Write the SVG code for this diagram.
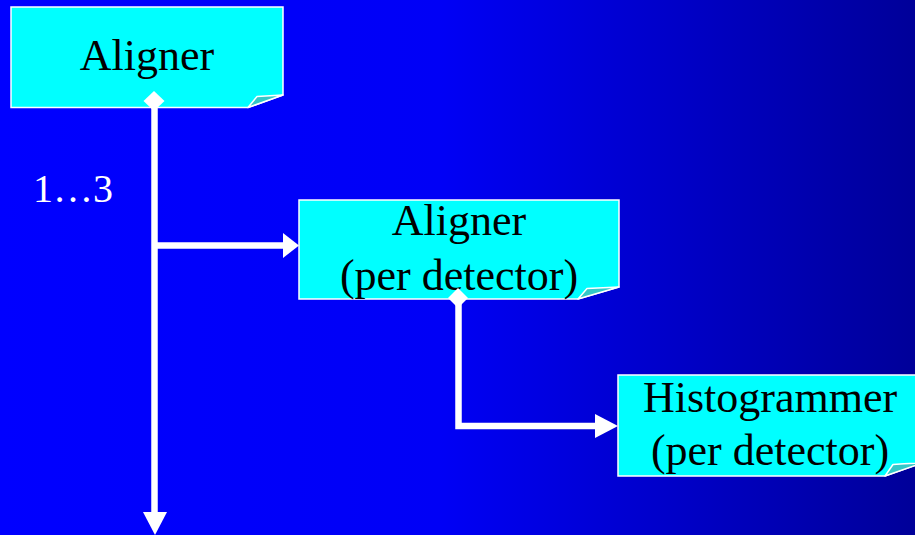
<svg xmlns="http://www.w3.org/2000/svg" width="915" height="535" viewBox="0 0 915 535">
  <defs>
    <linearGradient id="bg" x1="0" y1="0" x2="1" y2="0">
      <stop offset="0" stop-color="#0000FF"/>
      <stop offset="0.48" stop-color="#0000F6"/>
      <stop offset="1" stop-color="#000099"/>
    </linearGradient>
    <style>
      .note { fill: #00FFFF; stroke: #FFFFFF; stroke-width: 1.5; }
      .fold { fill: #33C8C8; stroke: #FFFFFF; stroke-width: 1.5; stroke-linejoin: round; }
      .label { font-family: "Liberation Serif", "Times New Roman", serif; font-size: 44px; fill: #000000; text-anchor: middle; }
      .wire { fill: none; stroke: #FFFFFF; stroke-width: 6.5; }
      .head { fill: #FFFFFF; }
      .mult { font-family: "Liberation Serif", "Times New Roman", serif; font-size: 40px; fill: #FFFFFF; }
    </style>
  </defs>

  <rect x="0" y="0" width="915" height="535" fill="url(#bg)"/>

  <!-- nodes -->
  <g id="aligner">
    <path class="note" d="M11,7 H283 V95 L248,107.5 H11 Z"/>
    <path class="fold" d="M248,107.5 L257,96.5 Q270,95.5 283,95 Z"/>
    <text class="label" x="147" y="70">Aligner</text>
  </g>

  <g id="aligner-per-detector">
    <path class="note" d="M299,200 H619 V287 L578,299 H299 Z"/>
    <path class="fold" d="M578,299 L587,288.5 Q603,287.5 619,287 Z"/>
    <text class="label" x="459" y="235">Aligner</text>
    <text class="label" x="459" y="290">(per detector)</text>
  </g>

  <g id="histogrammer-per-detector">
    <path class="note" d="M618,375 H922 V463 L885,476 H618 Z"/>
    <path class="fold" d="M885,476 L893,464.5 Q908,463.5 922,463 Z"/>
    <text class="label" x="770" y="412">Histogrammer</text>
    <text class="label" x="770" y="465">(per detector)</text>
  </g>

  <!-- connectors -->
  <g id="connectors">
    <path class="wire" d="M154.5,100 V514"/>
    <path class="head" d="M143,512 L167,512 L155,535 Z"/>
    <path class="head" d="M154,91 L164.5,101 L154,111 L143.5,101 Z"/>

    <path class="wire" d="M154.5,245.5 H285"/>
    <path class="head" d="M283,233 L299,245.5 L283,258 Z"/>

    <path class="wire" d="M458.5,298 V426 H597"/>
    <path class="head" d="M458,288 L468,298 L458,308 L448,298 Z"/>
    <path class="head" d="M595,414 L618,426 L595,438 Z"/>
  </g>

  <text class="mult" x="33" y="202">1…3</text>
</svg>
